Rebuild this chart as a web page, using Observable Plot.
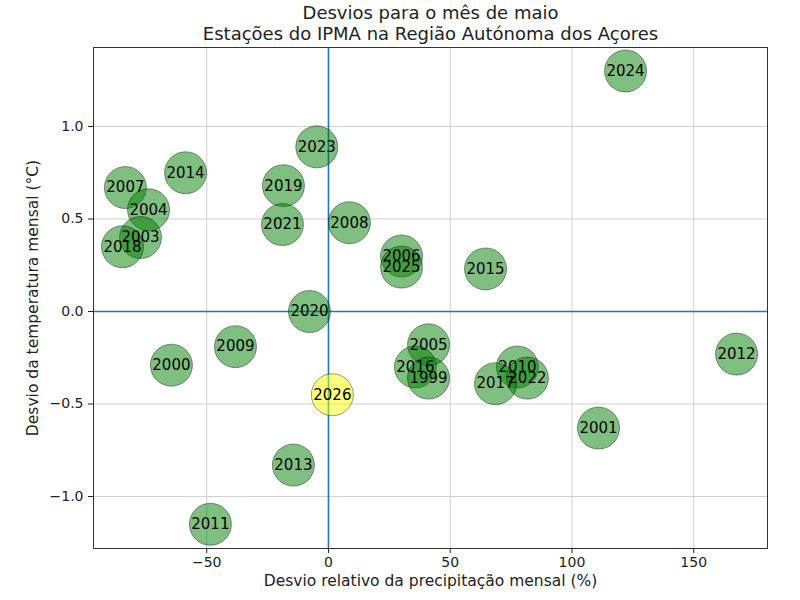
<!DOCTYPE html>
<html>
<head>
<meta charset="utf-8">
<script src="https://cdn.jsdelivr.net/npm/d3@7"></script>
<script src="https://cdn.jsdelivr.net/npm/@observablehq/plot@0.6"></script>
<style>
  html, body { margin: 0; padding: 0; background: white; }
</style>
</head>
<body>
<div id="chart"></div>
<script>
const years  = [2024, 2023, 2014, 2007, 2019, 2004, 2021, 2008, 2003, 2018, 2006, 2025, 2015, 2020, 2005, 2009, 2000, 2016, 2010, 2012, 1999, 2022, 2017, 2026, 2001, 2013, 2011];
const precip = [122.0, -4.8, -58.7, -83.4, -18.5, -73.9, -18.9, 8.6, -77.2, -84.6, 30.0, 30.0, 64.5, -7.8, 41.1, -38.2, -64.5, 35.7, 77.6, 167.6, 41.1, 81.7, 68.6, 1.6, 110.9, -14.4, -48.5];
const temp   = [1.30, 0.89, 0.75, 0.67, 0.68, 0.55, 0.47, 0.48, 0.40, 0.35, 0.30, 0.24, 0.23, 0.0, -0.18, -0.19, -0.29, -0.30, -0.30, -0.23, -0.36, -0.36, -0.39, -0.45, -0.63, -0.83, -1.15];
const highlightYear = 2026;
const xTicks = [-50, 0, 50, 100, 150];
const yTicks = [-1.0, -0.5, 0.0, 0.5, 1.0];
const titleLines = ["Desvios para o mês de maio", "Estações do IPMA na Região Autónoma dos Açores"];
const xLabel = "Desvio relativo da precipitação mensal (%)";
const yLabel = "Desvio da temperatura mensal (°C)";

const data = years.map((yr, i) => ({year: String(yr), x: precip[i], y: temp[i], color: yr === highlightYear ? "yellow" : "green"}));
const minus = s => s.replace("-", "\u2212");

const chart = Plot.plot({
  width: 800,
  height: 600,
  marginLeft: 93,
  marginRight: 33,
  marginTop: 47,
  marginBottom: 52,
  style: {fontFamily: "DejaVu Sans", fontSize: "14px", background: "white", color: "#222"},
  x: {domain: [-96.5, 180.3]},
  y: {domain: [-1.281, 1.427]},
  marks: [
    Plot.gridX(xTicks, {stroke: "#d0d0d0", strokeOpacity: 1, strokeWidth: 1}),
    Plot.gridY(yTicks, {stroke: "#d0d0d0", strokeOpacity: 1, strokeWidth: 1}),
    Plot.ruleX([0], {stroke: "#1f77b4", strokeWidth: 1.6}),
    Plot.ruleY([0], {stroke: "#1f77b4", strokeWidth: 1.6}),
    Plot.dot(data, {x: "x", y: "y", r: 21, fill: "color", fillOpacity: 0.5, stroke: "black", strokeOpacity: 0.4, strokeWidth: 1}),
    Plot.text(data, {x: "x", y: "y", text: "year", fill: "black", fontSize: 15}),
    Plot.frame({stroke: "#333", strokeWidth: 1}),
    Plot.axisX(xTicks, {tickSize: 5, tickPadding: 4, label: null, tickFormat: d => minus(String(d)), fontSize: 14}),
    Plot.axisY(yTicks, {tickSize: 5, tickPadding: 5, label: null, tickFormat: d => minus(d.toFixed(1)), fontSize: 14}),
    Plot.text([xLabel], {frameAnchor: "bottom", dy: 37, fill: "#222", fontSize: 15.5}),
    Plot.text([yLabel], {frameAnchor: "left", textAnchor: "middle", dx: -60, rotate: -90, fill: "#222", fontSize: 15.5}),
    Plot.text([titleLines[0]], {frameAnchor: "top", dy: -41, fill: "#222", fontSize: 18}),
    Plot.text([titleLines[1]], {frameAnchor: "top", dy: -20, fill: "#222", fontSize: 18})
  ]
});
document.getElementById("chart").appendChild(chart);
</script>
</body>
</html>
